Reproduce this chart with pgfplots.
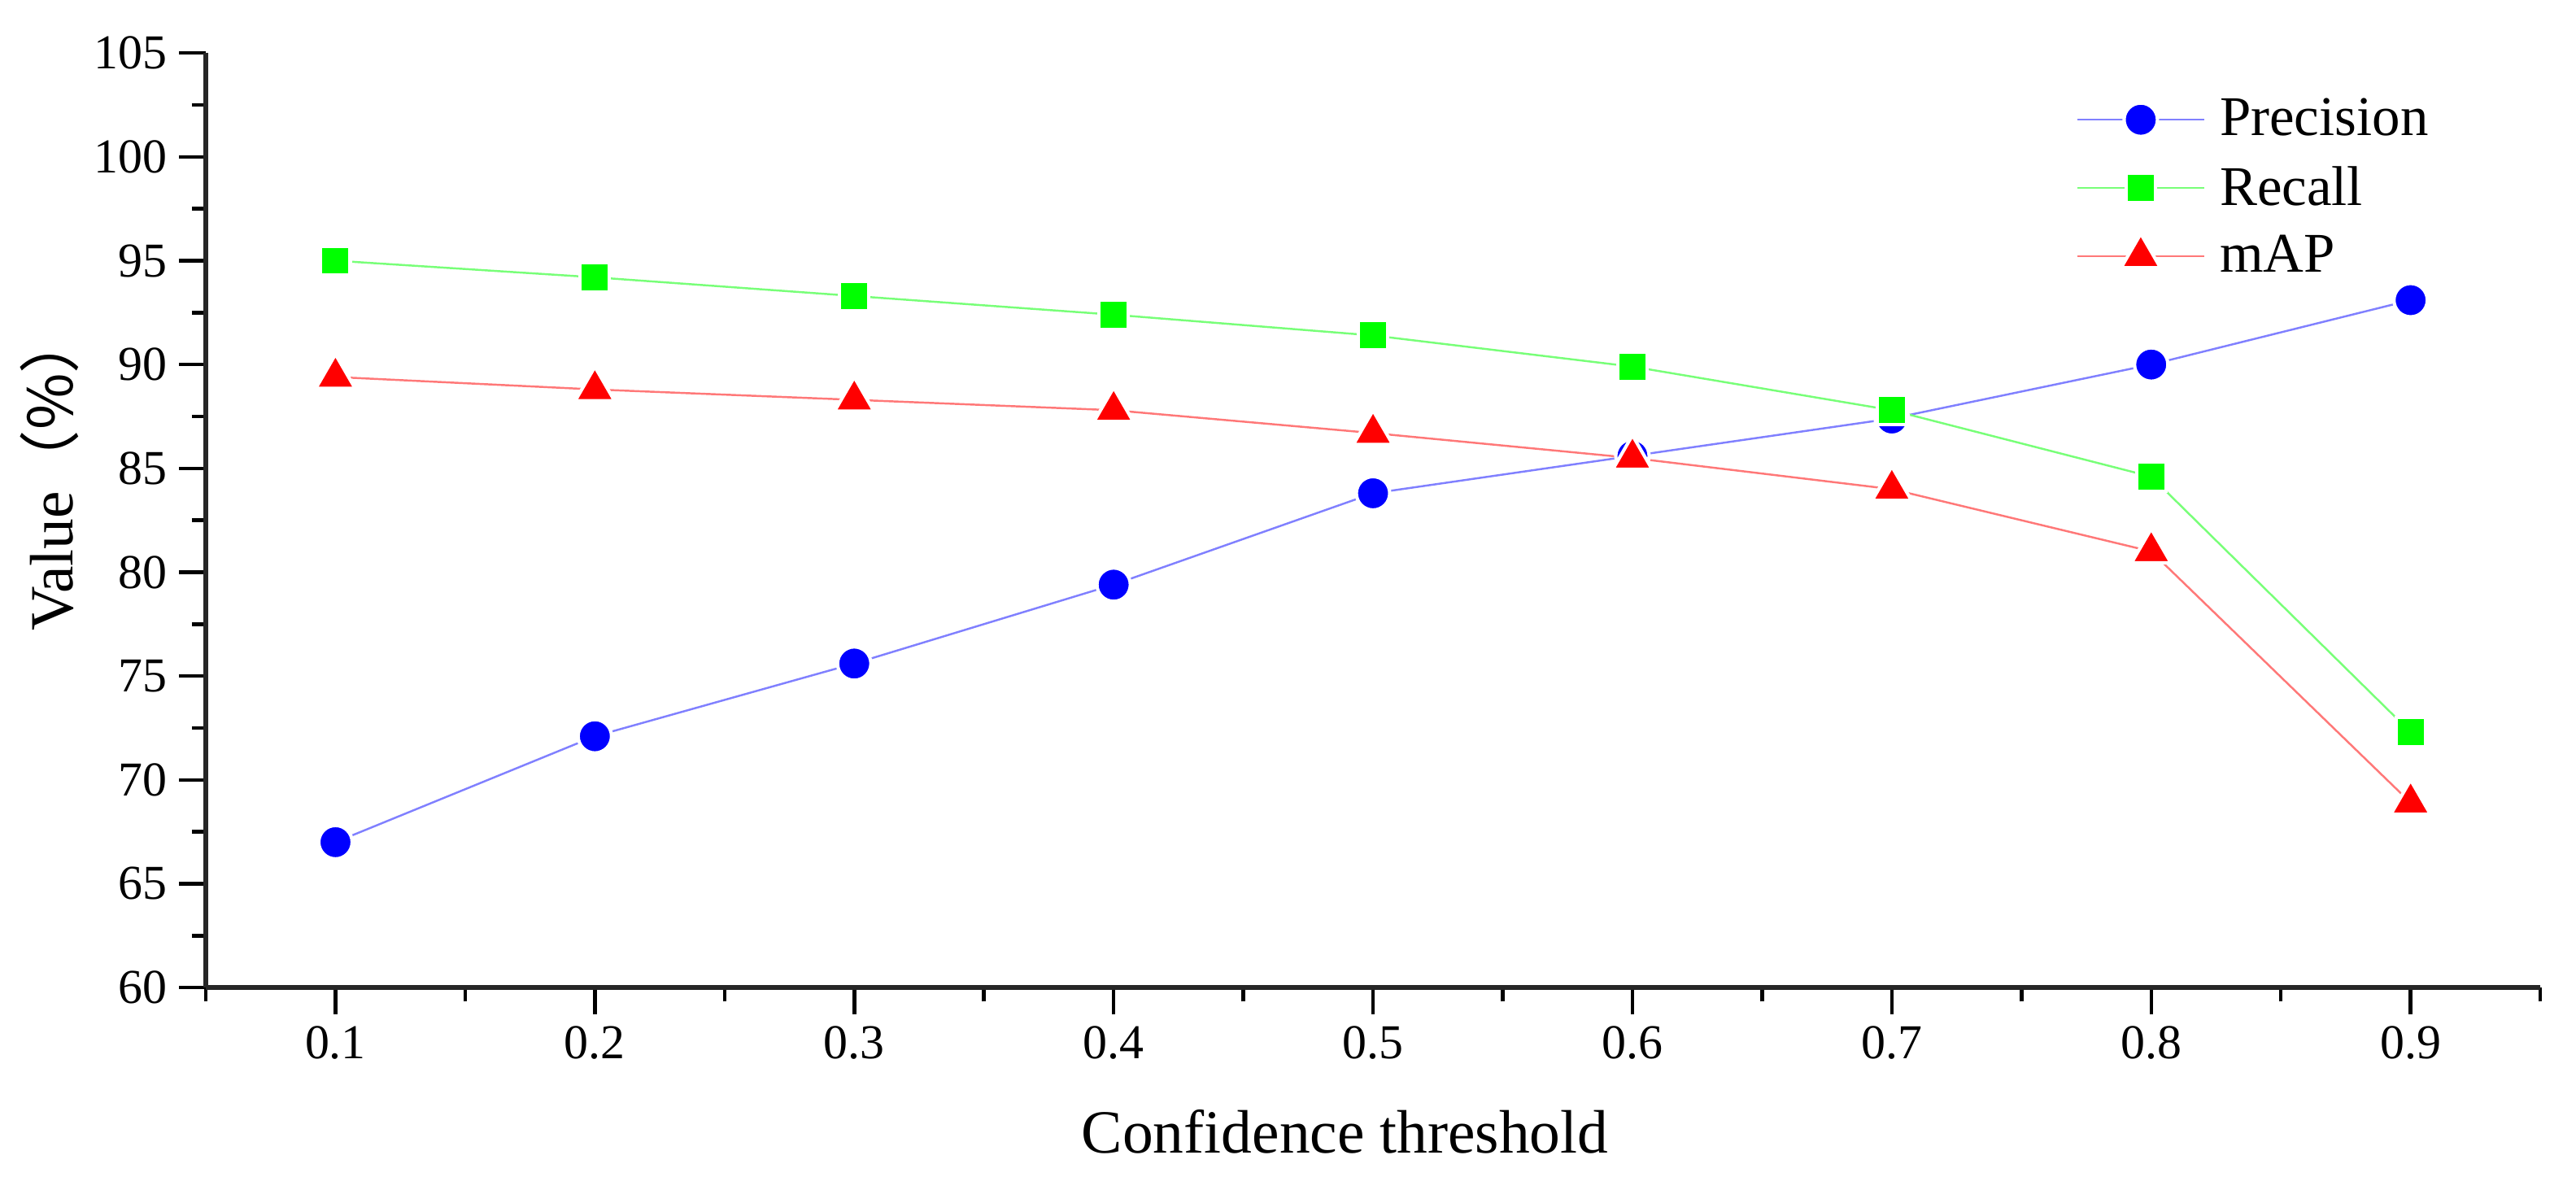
\documentclass[border=0pt]{standalone}
\usepackage{pgfplots}
\pgfplotsset{compat=1.18}
\usepackage{pgfplotstable}
\usepackage{fontspec}
\setmainfont{Liberation Serif}
\newfontfamily\cjk{Noto Sans CJK SC}

\definecolor{precline}{RGB}{128,128,255}
\definecolor{recline}{RGB}{120,255,120}
\definecolor{mapline}{RGB}{255,120,120}

% confidence threshold vs. precision / recall / mAP (%)
\pgfplotstableread{
x    prec  rec   map
0.1  67.0  95.0  89.4
0.2  72.1  94.2  88.8
0.3  75.6  93.3  88.3
0.4  79.4  92.4  87.8
0.5  83.8  91.4  86.7
0.6  85.6  89.9  85.5
0.7  87.4  87.8  84.0
0.8  90.0  84.6  81.0
0.9  93.1  72.3  68.9
}\datatable

\begin{document}
\begin{tikzpicture}
\useasboundingbox (-61.7pt,-60.7pt) rectangle (710.7pt,296.1pt);
\begin{axis}[
    at={(0,0)}, anchor=south west,
    scale only axis,
    width=700pt, height=280.2pt,
    xmin=0.05, xmax=0.95,
    ymin=60, ymax=105,
    axis x line*=bottom, axis y line*=left,
    axis line style={line width=1.5pt, black!85},
    xtick={0.1,0.2,0.3,0.4,0.5,0.6,0.7,0.8,0.9},
    minor xtick={0.05,0.15,0.25,0.35,0.45,0.55,0.65,0.75,0.85,0.95},
    ytick={60,65,70,75,80,85,90,95,100,105},
    minor ytick={62.5,67.5,72.5,77.5,82.5,87.5,92.5,97.5,102.5},
    tick align=outside,
    major tick length=8pt, minor tick length=4.2pt,
    every tick/.style={black, line width=1.1pt},
    /pgf/number format/assume math mode=true,
    tick label style={font=\fontsize{14.6}{17}\selectfont},
    xticklabel style={/pgf/number format/fixed, /pgf/number format/fixed zerofill, /pgf/number format/precision=1},
    xlabel={Confidence threshold},
    ylabel={Value\cjk{（}\%\cjk{）}},
    label style={font=\fontsize{18.4}{22}\selectfont},
    xlabel style={at={(axis description cs:0.488,0)}, anchor=base, yshift=-49.5pt},
    ylabel style={at={(axis description cs:-0.0569,0.552)}, anchor=base},
    clip=false,
    legend cell align=left,
    legend style={at={(rel axis cs:0.801,0.959)}, anchor=north west, draw=none, fill=none,
        font=\fontsize{16.8}{20}\selectfont, row sep=3.6pt, column sep=2.4pt, inner sep=0pt},
    legend image code/.code={\draw[mark repeat=2,mark phase=2] plot coordinates {(0pt,0pt) (19pt,0pt) (38pt,0pt)};},
]
\addplot[color=precline, line width=0.6pt, mark=*, mark size=5pt,
    mark options={fill=blue, draw=white, line width=1pt}] table[x=x, y=prec] {\datatable};
\addplot[color=recline, line width=0.6pt, mark=square*, mark size=4.4pt,
    mark options={fill=green, draw=white, line width=1pt}] table[x=x, y=rec] {\datatable};
\addplot[color=mapline, line width=0.6pt, mark=triangle*, mark size=6.8pt,
    mark options={fill=red, draw=white, line width=1pt}] table[x=x, y=map] {\datatable};
\legend{Precision, Recall, mAP}
\end{axis}
\end{tikzpicture}
\end{document}
